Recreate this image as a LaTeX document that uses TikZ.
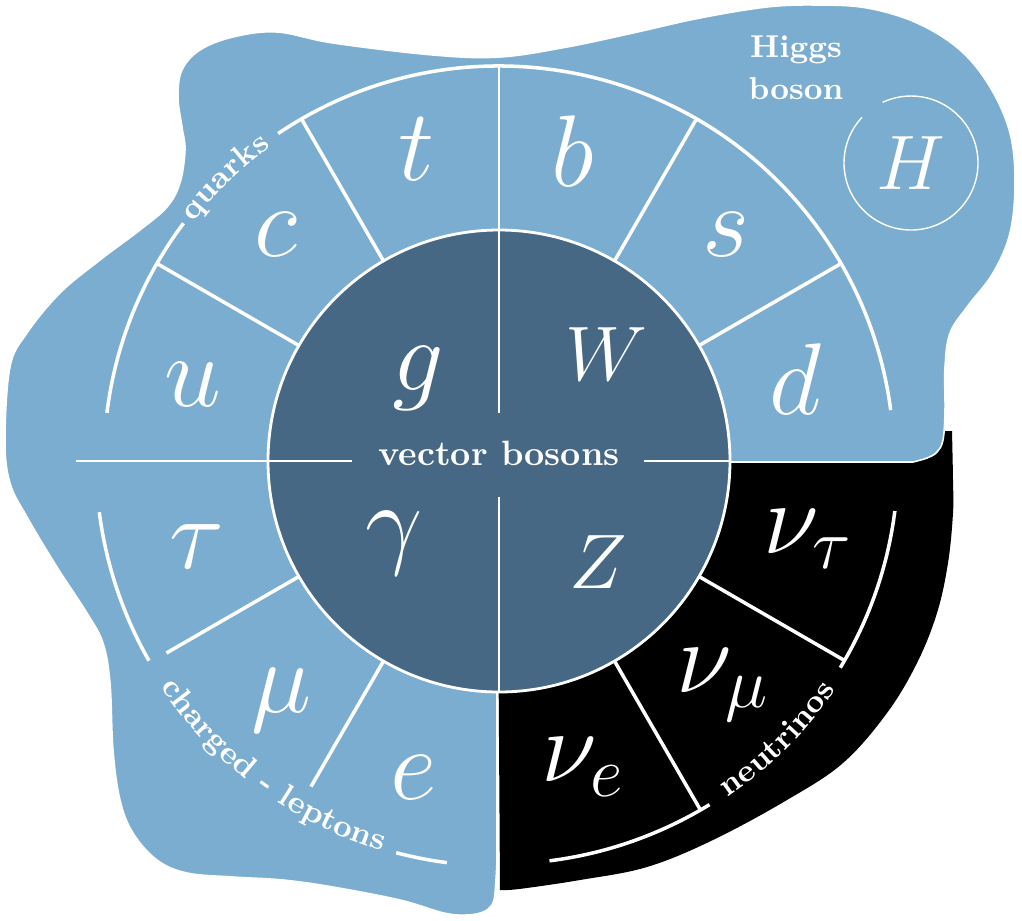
\RequirePackage{fix-cm}
\documentclass[tikz,border=0pt]{standalone}
\usepackage{xcolor}
\usepackage{tikz}
\usetikzlibrary{decorations.text, positioning}

\definecolor{blobblue}{HTML}{7BADD0}
\definecolor{bosonblue}{HTML}{466884}

\begin{document}
\begin{tikzpicture}
        % Define styles
        \tikzstyle{particle} = [text=white, font=\fontsize{29}{34}\selectfont, inner sep=0pt]
        \tikzstyle{boson} = [particle, font=\fontsize{22}{26}\selectfont]
        \tikzstyle{divider} = [draw=white, line width=1pt]
        \tikzstyle{hairline} = [draw=white, line width=0.45pt]
        \tikzstyle{family} = [decorate, decoration={text along path, text align=center, text color=white}]

        \useasboundingbox (-4.99,-4.59) rectangle (5.23,4.61);
        \coordinate (centre) at (0,0);

        % Neutrino quarter (black)
        \fill[black] (-0.02,0.3) -- plot[smooth, tension=0.6] coordinates {(4.53,0.3) (4.54,-0.19) (4.54,-0.52) (4.49,-1.02) (4.38,-1.52) (4.18,-2.02) (3.88,-2.52) (3.44,-3.02) (2.88,-3.39) (2.14,-3.79) (1.48,-4.06) (0.81,-4.19) (0.2,-4.28) (0.01,-4.29)} -- cycle;

        % Blob (light blue)
        \filldraw[fill=blobblue, draw=white, line width=0.45pt] (-0.02,-0.01) -- plot[smooth, tension=0.6] coordinates {(-0.02,-4.0) (-0.04,-4.32) (-0.07,-4.44) (-0.16,-4.51) (-0.32,-4.54) (-0.55,-4.52) (-0.99,-4.39) (-1.66,-4.26) (-2.16,-4.19) (-2.66,-4.16) (-3.12,-4.12) (-3.42,-3.99) (-3.66,-3.72) (-3.79,-3.39) (-3.86,-2.89) (-3.89,-2.22) (-3.96,-1.82) (-4.12,-1.52) (-4.42,-1.06) (-4.72,-0.56) (-4.89,-0.22) (-4.94,0.21) (-4.89,0.94) (-4.72,1.28) (-4.39,1.68) (-3.99,2.01) (-3.59,2.31) (-3.32,2.54) (-3.19,2.78) (-3.14,3.11) (-3.17,3.34) (-3.21,3.64) (-3.17,3.91) (-2.99,4.11) (-2.66,4.24) (-2.22,4.29) (-1.66,4.18) (-0.66,4.06) (0.01,4.04) (0.68,4.14) (1.34,4.28) (2.01,4.43) (2.68,4.54) (3.18,4.56) (3.68,4.53) (4.18,4.38) (4.61,4.11) (4.91,3.74) (5.11,3.28) (5.16,2.78) (5.11,2.28) (4.94,1.88) (4.68,1.54) (4.51,1.28) (4.46,0.94) (4.46,0.5) (4.44,0.21) (4.38,0.09) (4.28,0.03) (4.14,-0.01)} -- cycle;

        % Vector bosons (inner disc)
        \filldraw[fill=bosonblue, draw=white, line width=0.8pt] (centre) circle (2.31);
        \draw[hairline] (0,3.95) -- (0,0.48);
        \draw[hairline] (0,-0.36) -- (0,-2.31);
        \draw[hairline] (-4.23,0) -- (-1.47,0);
        \draw[hairline] (1.45,0) -- (2.31,0);

        % Quarks
        \draw[divider] (173:3.95) arc[start angle=173, end angle=143, radius=3.95];
        \draw[divider] (124:3.95) arc[start angle=124, end angle=7.4, radius=3.95];
        \draw[divider] (150:2.31) -- (150:3.95);
        \draw[divider] (120:2.31) -- (120:3.95);
        \draw[divider] (60:2.31) -- (60:3.95);
        \draw[divider] (30:2.31) -- (30:3.95);

        % Charged leptons
        \draw[divider] (187.3:4.03) arc[start angle=187.3, end angle=209.7, radius=4.03];
        \draw[divider] (255.3:4.05) arc[start angle=255.3, end angle=262.6, radius=4.05];
        \draw[divider] (210:2.31) -- (210:3.84);
        \draw[divider] (240:2.31) -- (240:3.76);

        % Neutrinos
        \draw[divider] (-7.2:3.99) arc[start angle=-7.2, end angle=-31.2, radius=3.99];
        \draw[divider] (-58.5:4.03) arc[start angle=-58.5, end angle=-82.8, radius=4.03];
        \draw[divider] (-30:2.31) -- (-30:3.99);
        \draw[divider] (-60:2.31) -- (-60:4.03);

        % Family labels
        \path[family, decoration={text={|\small\bfseries|quarks}}] (144:3.88) arc[start angle=144, end angle=124, radius=3.88];
        \path[family, decoration={text={|\small\bfseries|charged - leptons}}] (205:4.07) arc[start angle=205, end angle=262, radius=4.07];
        \path[family, decoration={text={|\small\bfseries|neutrinos}}] (-60:4.07) arc[start angle=-60, end angle=-30, radius=4.07];
        \node (bosons) [text=white, font=\bfseries] at (0,0.08) {vector bosons};

        % Particles
        \node (up) [particle] at (-3.06,0.76) {$u$};
        \node (charm) [particle] at (-2.23,2.26) {$c$};
        \node (top) [particle] at (-0.82,3.12) {$t$};
        \node (bottom) [particle] at (0.74,3.10) {$b$};
        \node (strange) [particle] at (2.27,2.26) {$s$};
        \node (down) [particle] at (2.96,0.82) {$d$};
        \node (tau) [particle] at (-3.02,-0.86) {$\tau$};
        \node (muon) [particle] at (-2.17,-2.39) {$\mu$};
        \node (electron) [particle] at (-0.85,-3.17) {$e$};
        \node (nutau) [particle] at (3.09,-0.78) {$\nu_\tau$};
        \node (numu) [particle] at (2.24,-2.24) {$\nu_\mu$};
        \node (nue) [particle] at (0.84,-3.06) {$\nu_e$};
        \node (gluon) [particle] at (-0.81,0.83) {$g$};
        \node (wboson) [boson] at (1.07,1.07) {$W$};
        \node (photon) [particle] at (-1.05,-0.82) {$\gamma$};
        \node (zboson) [boson] at (0.99,-1.01) {$Z$};

        % Higgs
        \node (higgs) [boson] at (4.12,2.98) {$H$};
        \draw[white, line width=0.4pt] (higgs.center) ++(137:0.67) arc[start angle=137, end angle=475, radius=0.67];
        \node (higgslabel) [text=white, font=\small\bfseries, align=center] at (2.97,3.93) {Higgs\\[1pt]boson};
\end{tikzpicture}
\end{document}
